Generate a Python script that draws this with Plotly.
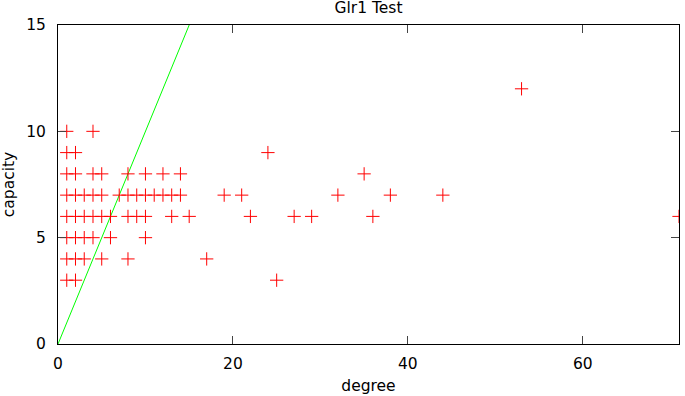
import plotly.graph_objects as go

# capacity rows: degree values for each capacity level
cap3 = [1, 2, 25]
cap4 = [1, 2, 3, 5, 8, 17]
cap5 = [1, 2, 3, 4, 6, 10]
cap6 = [1, 2, 3, 4, 5, 6, 8, 9, 10, 13, 15, 22, 27, 29, 36, 71]
cap7 = [1, 2, 3, 4, 5, 7, 8, 9, 10, 11, 12, 13, 14, 19, 21, 32, 38, 44]
cap8 = [1, 2, 4, 5, 8, 10, 12, 14, 35]
cap9 = [1, 2, 24]
cap10 = [1, 4]
cap12 = [53]

rows = {3: cap3, 4: cap4, 5: cap5, 6: cap6, 7: cap7, 8: cap8, 9: cap9, 10: cap10, 12: cap12}
degree = []
capacity = []
for c, xs in rows.items():
    for x in xs:
        degree.append(x)
        capacity.append(c)

line_x = [0, 15]
line_y = [0, 15]

x_ticks = [0, 20, 40, 60]
y_ticks = [0, 5, 10, 15]

FONT = "DejaVu Sans"
FS = 15.5

fig = go.Figure()
fig.add_trace(go.Scatter(x=line_x, y=line_y, mode="lines",
                         line=dict(color="#00ff00", width=1), showlegend=False))
fig.add_trace(go.Scatter(x=degree, y=capacity, mode="markers",
                         marker=dict(symbol="cross-thin", size=9.5,
                                     line=dict(color="#ff0000", width=1)),
                         showlegend=False))

fig.update_layout(
    width=685, height=396,
    margin=dict(l=58, r=6, t=25, b=52),
    paper_bgcolor="white", plot_bgcolor="white",
    font=dict(family=FONT, size=FS, color="black"),
    title=dict(text="Glr1 Test", x=(58 + 679) / 2 / 685, xanchor="center",
               y=1 - 8 / 396, yanchor="middle", yref="container",
               font=dict(size=FS)),
    xaxis=dict(range=[0, 71], tickvals=x_ticks, ticks="inside", ticklen=8,
               showline=True, linecolor="black", linewidth=1, mirror="ticks",
               showgrid=False, zeroline=False, tickfont=dict(size=FS),
               ticklabelstandoff=5,
               title=dict(text="degree", standoff=8, font=dict(size=FS)),
               automargin=False),
    yaxis=dict(range=[0, 15], tickvals=y_ticks, ticks="inside", ticklen=8,
               showline=True, linecolor="black", linewidth=1, mirror="ticks",
               showgrid=False, zeroline=False, tickfont=dict(size=FS),
               ticklabelstandoff=8,
               title=dict(text="capacity", standoff=7, font=dict(size=FS)),
               automargin=False),
)

fig.write_html("out.html", config={"displayModeBar": False},
               post_script="document.body.style.margin='0';")
